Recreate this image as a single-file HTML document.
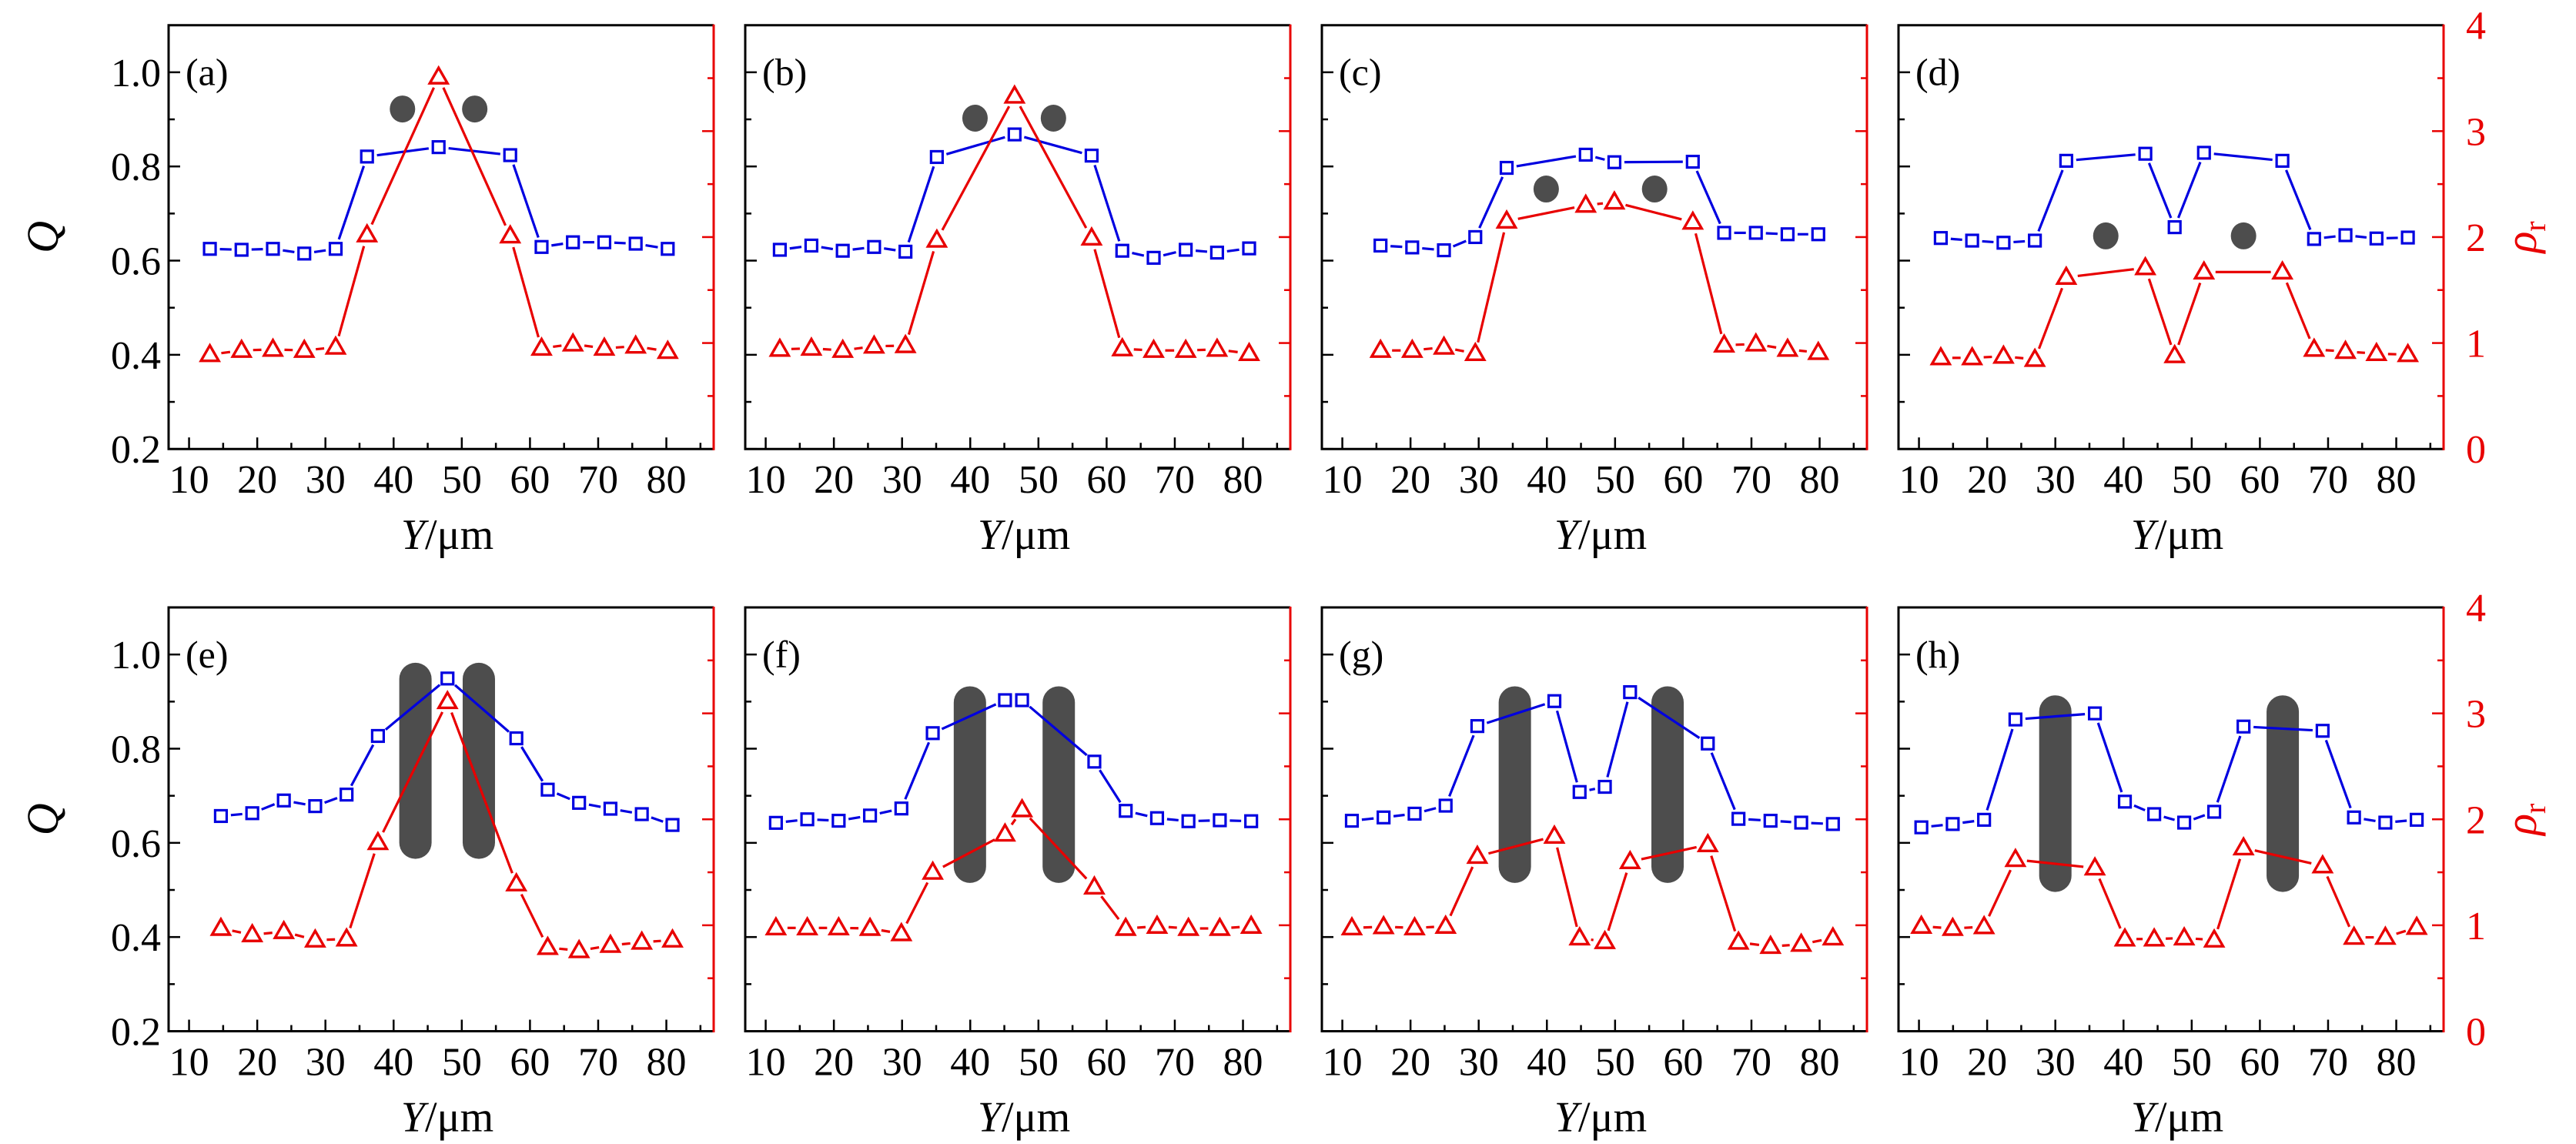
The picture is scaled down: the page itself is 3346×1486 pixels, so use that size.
<!DOCTYPE html>
<html><head><meta charset="utf-8">
<style>
html,body{margin:0;padding:0;background:#fff;}
svg{display:block;}
svg text{font-family:"Liberation Serif","DejaVu Serif",serif !important;}
</style></head>
<body>
<svg id="fig" width="3346" height="1486" viewBox="0 0 3346 1486" xmlns="http://www.w3.org/2000/svg" font-family="Liberation Serif, serif"></svg>
<script>
// ---- data (Y in µm, Q, rho_r) ----
const panelLabels = ["(a)","(b)","(c)","(d)","(e)","(f)","(g)","(h)"];
const xA=[13.05,17.7,22.3,26.9,31.5,36.1,46.6,57.1,61.7,66.3,70.9,75.5,80.2];
const qA=[0.625,0.623,0.625,0.615,0.625,0.821,0.841,0.824,0.629,0.639,0.639,0.636,0.625];
const rA=[0.89,0.93,0.94,0.93,0.96,2.02,3.51,2.01,0.95,0.99,0.95,0.97,0.92];
const xB=[12.07,16.7,21.3,25.9,30.5,35.1,46.5,57.8,62.3,66.9,71.6,76.2,80.9];
const qB=[0.623,0.632,0.621,0.629,0.619,0.820,0.868,0.823,0.621,0.606,0.623,0.617,0.626];
const rB=[0.94,0.95,0.93,0.97,0.975,1.97,3.33,1.99,0.945,0.93,0.93,0.94,0.90];
const xC=[15.6,20.25,24.9,29.5,34.1,45.7,49.9,61.4,66.0,70.65,75.3,79.8];
const qC=[0.632,0.628,0.622,0.650,0.797,0.825,0.809,0.810,0.659,0.659,0.656,0.656];
const rC=[0.93,0.93,0.96,0.90,2.15,2.30,2.33,2.14,0.98,0.99,0.94,0.91];
const xD=[13.2,17.8,22.4,27.0,31.6,43.2,47.5,51.8,63.3,67.95,72.55,77.1,81.7];
const qD=[0.648,0.6425,0.638,0.6425,0.812,0.827,0.671,0.829,0.812,0.646,0.654,0.647,0.649];
const rD=[0.86,0.86,0.875,0.845,1.62,1.71,0.88,1.67,1.67,0.94,0.92,0.90,0.89];
const xE=[14.67,19.27,23.9,28.5,33.1,37.7,47.9,58.0,62.6,67.2,71.8,76.4,80.9];
const qE=[0.657,0.663,0.69,0.678,0.7025,0.827,0.949,0.822,0.713,0.685,0.6725,0.661,0.638];
const rE=[0.97,0.91,0.94,0.86,0.87,1.78,3.11,1.39,0.79,0.76,0.81,0.84,0.86];
const xF=[11.5,16.1,20.7,25.3,29.9,34.5,45.1,47.6,58.2,62.8,67.4,72.0,76.6,81.2];
const qF=[0.6425,0.65,0.647,0.658,0.673,0.833,0.903,0.903,0.7725,0.668,0.6525,0.646,0.648,0.646];
const rF=[0.975,0.975,0.975,0.97,0.92,1.50,1.86,2.09,1.36,0.97,0.99,0.97,0.97,0.99];
const xG=[11.4,16.05,20.6,25.15,29.8,41.1,44.8,48.5,52.2,63.6,68.1,72.8,77.3,81.95];
const qG=[0.647,0.654,0.662,0.679,0.848,0.901,0.708,0.719,0.92,0.811,0.651,0.647,0.643,0.64];
const rG=[0.975,0.986,0.975,0.99,1.65,1.84,0.88,0.845,1.60,1.76,0.84,0.80,0.82,0.88];
const xH=[10.35,14.95,19.55,24.15,35.8,40.2,44.5,48.9,53.3,57.6,69.2,73.8,78.4,83.0];
const qH=[0.633,0.64,0.649,0.862,0.875,0.6875,0.661,0.643,0.666,0.847,0.838,0.654,0.643,0.649];
const rH=[0.99,0.97,0.986,1.62,1.54,0.87,0.87,0.88,0.86,1.73,1.56,0.886,0.886,0.98];
// obstacles: centre Y positions, and Q extents
const obsX=[[41.3,51.9],[40.7,52.2],[39.9,55.8],[37.4,57.6],[43.2,52.5],[39.95,52.98],[35.3,57.7],[30.0,63.35]];
const obsQ=[[0.922],[0.9025],[0.752],[0.6525],[0.9825,0.566],[0.9325,0.515],[0.9325,0.515],[0.9133,0.4958]];
const xTicks=[10,20,30,40,50,60,70,80];
const qTicks=[0.2,0.4,0.6,0.8,1.0];
const rTicks=[0,1,2,3,4];

const seriesX=[xA,xB,xC,xD,xE,xF,xG,xH];
const seriesQ=[qA,qB,qC,qD,qE,qF,qG,qH];
const seriesR=[rA,rB,rC,rD,rE,rF,rG,rH];

const NS="http://www.w3.org/2000/svg";
const svg=document.getElementById('fig');
const FF='"Liberation Serif", serif';
function mk(tag,attrs,parent){const e=document.createElementNS(NS,tag);for(const k in attrs)e.setAttribute(k,attrs[k]);if(tag==='text')e.style.fontFamily=FF;(parent||svg).appendChild(e);return e;}

const PW=708, X0=7.0, X1=86.94, QMIN=0.2, QMAX=1.1, RMAX=4;
const lefts=[219,968,1717,2466];
const tops=[32.7,789];
const PH=550.5;
const BLUE="#0000e0", RED="#e80000";

function shortSeg(g,x1,y1,x2,y2,g1,g2,color,name){
  const dx=x2-x1, dy=y2-y1, L=Math.hypot(dx,dy);
  if(L<=g1+g2+2) return;
  const ux=dx/L, uy=dy/L;
  const ln=mk('line',{x1:x1+ux*g1,y1:y1+uy*g1,x2:x2-ux*g2,y2:y2-uy*g2,stroke:color,'stroke-width':3.2},g);
  
  
}

for(let p=0;p<8;p++){
  const L=lefts[p%4], T=tops[Math.floor(p/4)], B=T+PH, R=L+PW;
  const sx=v=>L+(v-X0)/(X1-X0)*PW;
  const sq=v=>B-(v-QMIN)/(QMAX-QMIN)*PH;
  const sr=v=>B-v/RMAX*PH;
  const g=mk('g',{});
  
  

  const ox=obsX[p], oq=obsQ[p];
  for(let k=0;k<ox.length;k++){
    let e;
    if(oq.length===1){
      e=mk('ellipse',{cx:sx(ox[k]),cy:sq(oq[0]),rx:16.5,ry:17.5,fill:'#4d4d4d'},g);
      
    } else {
      const y1=sq(oq[0]), y2=sq(oq[1]);
      e=mk('rect',{x:sx(ox[k])-21,y:y1,width:42,height:y2-y1,rx:21,ry:21,fill:'#4d4d4d'},g);
      
    }
    
  }

  const X=seriesX[p], Q=seriesQ[p], Rr=seriesR[p];
  for(let i=0;i<X.length-1;i++){
    shortSeg(g,sx(X[i]),sq(Q[i]),sx(X[i+1]),sq(Q[i+1]),13,13,BLUE,'q-line-segment');
    shortSeg(g,sx(X[i]),sr(Rr[i]),sx(X[i+1]),sr(Rr[i+1]),15,15,RED,'rho-line-segment');
  }
  for(let i=0;i<X.length;i++){
    const cx=sx(X[i]), cy=sq(Q[i]);
    const s=mk('rect',{x:cx-7.5,y:cy-7.5,width:15,height:15,fill:'none',stroke:BLUE,'stroke-width':3.2},g);
    
    
    const ty=sr(Rr[i]);
    const t=mk('polygon',{points:`${cx},${ty-12} ${cx-11.5},${ty+8} ${cx+11.5},${ty+8}`,fill:'none',stroke:RED,'stroke-width':3.4,'stroke-linejoin':'miter'},g);
    
    
  }

  const fr=mk('path',{d:`M${R},${T} L${L},${T} L${L},${B} L${R},${B}`,fill:'none',stroke:'#000','stroke-width':3},g);
  
  
  const ra=mk('line',{x1:R,y1:T-1,x2:R,y2:B+1.5,stroke:RED,'stroke-width':3},g);
  
  

  for(let v=10;v<=85;v+=5){
    const major=(v%10===0);
    mk('line',{x1:sx(v),y1:B,x2:sx(v),y2:B-(major?15:8),stroke:'#000','stroke-width':2.5},g);
  }
  for(const v of xTicks){
    const t=mk('text',{x:sx(v),y:B+57,'font-size':52,'text-anchor':'middle',fill:'#000'},g);
    t.textContent=v;
    
    
  }
  const xt=mk('text',{x:L+PW/2+8,y:B+130,'font-size':56,'text-anchor':'middle',fill:'#000'},g);
  xt.innerHTML='<tspan font-style="italic">Y</tspan>/μm';
  
  

  for(let v=0.2;v<=1.05;v+=0.1){
    const major=(Math.round(v*10)%2===0);
    mk('line',{x1:L,y1:sq(v),x2:L+(major?15:8),y2:sq(v),stroke:'#000','stroke-width':2.5},g);
  }
  if(p%4===0){
    for(const v of qTicks){
      const t=mk('text',{x:L-10,y:sq(v)+18,'font-size':52,'text-anchor':'end',fill:'#000'},g);
      t.textContent=v.toFixed(1);
      
      
    }
    const yt=mk('text',{x:0,y:0,'font-size':58,'font-style':'italic','text-anchor':'middle',fill:'#000',transform:`translate(75,${(T+B)/2}) rotate(-90)`},g);
    yt.textContent='Q';
    
    
  }
  for(let v=0.5;v<=3.5;v+=0.5){
    const major=(v%1===0);
    mk('line',{x1:R,y1:sr(v),x2:R-(major?15:8),y2:sr(v),stroke:RED,'stroke-width':2.5},g);
  }
  if(p%4===3){
    for(const v of rTicks){
      const t=mk('text',{x:R+42,y:sr(v)+18,'font-size':52,'text-anchor':'middle',fill:RED},g);
      t.textContent=v;
      
      
    }
    const rt=mk('text',{x:0,y:0,'font-size':58,'text-anchor':'middle',fill:RED,transform:`translate(${R+120},${(T+B)/2}) rotate(-90)`},g);
    rt.innerHTML='<tspan font-style="italic">ρ</tspan><tspan font-size="40" dy="12">r</tspan>';
    
    
  }
  const pl=mk('text',{x:L+22,y:T+78,'font-size':50,fill:'#000'},g);
  pl.textContent=panelLabels[p];
  
  
}
</script>
</body></html>
